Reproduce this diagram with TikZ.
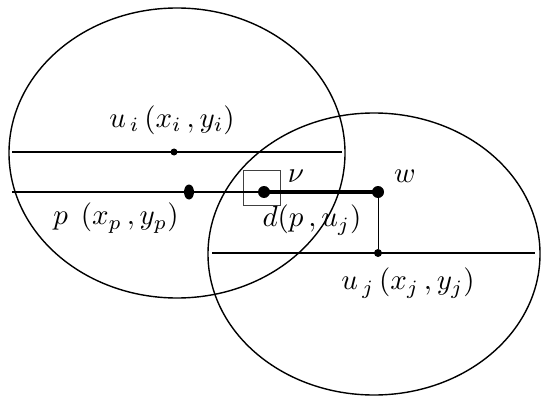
\documentclass[tikz,border=0pt]{standalone}
\usetikzlibrary{shapes.geometric, positioning}

\begin{document}
\begin{tikzpicture}[x=1pt, y=-1pt,
  rim/.style={line width=1.4pt},
  hline/.style={line width=1.2pt},
  dot/.style={circle, fill=black, inner sep=0pt, minimum size=#1},
  lbl/.style={scale=2.9, inner sep=0pt}
]
  \useasboundingbox (0,0) rectangle (545,398);

  % the two regions
  \draw[rim] (177,153) ellipse (168 and 145);
  \draw[rim] (374,254) ellipse (166 and 141);

  % grid lines
  \draw[hline] (12,152) -- (342,152);
  \draw[hline] (212,253) -- (535,253);

  \node[dot=7pt] (ui) at (174,152) {};
  \node[ellipse, fill=black, inner sep=0pt, minimum width=10pt, minimum height=15pt] (p) at (189,192) {};
  \node[draw=black!75, line width=0.9pt, minimum width=37pt, minimum height=35pt, inner sep=0pt] (vbox) at (261.5,187.5) {};
  \node[dot=12pt] (v) at (264,192) {};
  \node[dot=12pt] (w) at (378,192) {};
  \node[dot=8pt] (uj) at (378,253) {};
  \coordinate (pl) at (12,192);

  \draw[hline] (pl) -- (v);
  \draw[line width=4pt] (v.center) -- (w.center);
  \draw[line width=0.9pt] (w) -- (uj);

  \node[lbl] at (172,120) {$u_{\,i}\,(x_i\,,y_i)$};
  \node[lbl] at (116,218) {$p\;\,(x_p\,,y_p)$};
  \node[lbl] at (296,176) {$\nu$};
  \node[lbl] at (405,176) {$w$};
  \node[lbl] at (312,220) {$d(p\,,u_j)$};
  \node[lbl] at (408,283) {$u_{\,j}\,(x_j\,,y_j)$};
\end{tikzpicture}
\end{document}
